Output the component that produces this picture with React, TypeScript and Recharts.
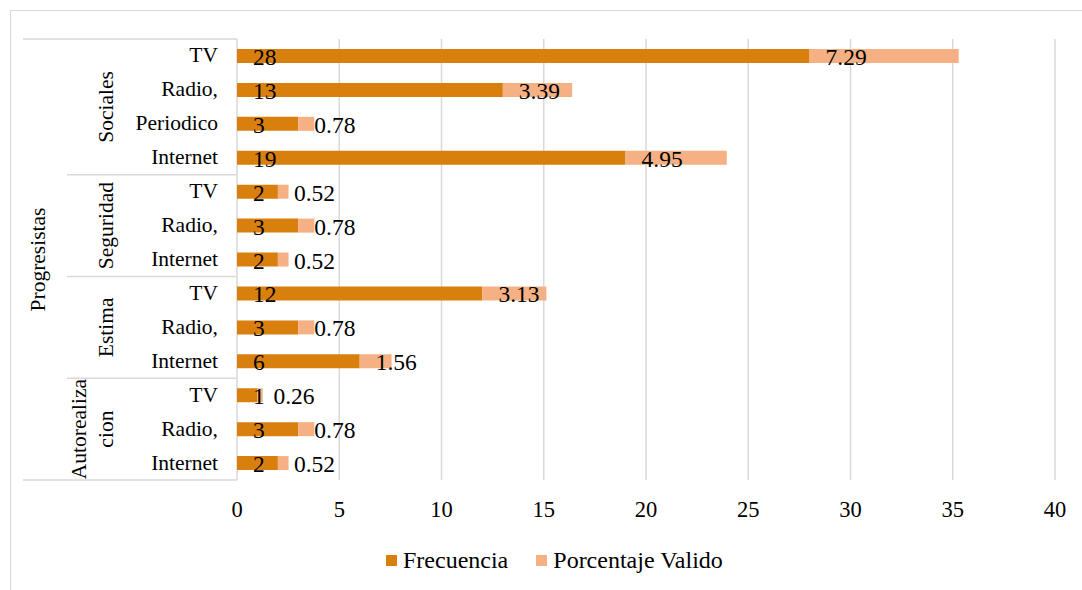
import React from 'react';
import { BarChart, Bar, XAxis, YAxis, CartesianGrid, Legend, LabelList } from 'recharts';

const FONT = 'Liberation Serif';
const DARK = '#D97F0D';
const LIGHT = '#F5B183';
const LINE = '#D9D9D9';

// top-to-bottom rows of the category table
const items = ['TV', 'Radio,', 'Periodico', 'Internet', 'TV', 'Radio,', 'Internet', 'TV', 'Radio,', 'Internet', 'TV', 'Radio,', 'Internet'];
const groupOf = [0, 0, 0, 0, 1, 1, 1, 2, 2, 2, 3, 3, 3];
const groupLabels = [['Sociales'], ['Seguridad'], ['Estima'], ['Autorealiza', 'cion']];
const topLabel = 'Progresistas';
const frecuencia = [28, 13, 3, 19, 2, 3, 2, 12, 3, 6, 1, 3, 2];
const porcentaje = [7.29, 3.39, 0.78, 4.95, 0.52, 0.78, 0.52, 3.13, 0.78, 1.56, 0.26, 0.78, 0.52];
const xTicks = [0, 5, 10, 15, 20, 25, 30, 35, 40];

const data = items.map((name, i) => ({
  key: `${i}-${name}`,
  name,
  frecuencia: frecuencia[i],
  porcentaje: porcentaje[i],
}));

const W = 1082;
const H = 590;
const PLOT_LEFT = 237;
const PLOT_TOP = 39;
const PLOT_BOTTOM = 480;
const BAND = (PLOT_BOTTOM - PLOT_TOP) / items.length;

const fontCss = `
#root .chart-box, #root .chart-box text, #root .chart-box tspan, #root .chart-box div, #root .chart-box span {
  font-family: "Liberation Serif", serif !important;
}`;

const txt = (size: number) => ({ fontSize: size, fill: '#000', fontFamily: FONT });

const CategoryTick: React.FC<any> = ({ y, payload, index }) => {
  const i = payload?.index ?? index;
  const g = groupOf[i];
  const first = i === 0 || groupOf[i - 1] !== g;
  const last = i === items.length - 1;
  const size = groupOf.filter((v) => v === g).length;
  const groupCenter = y - BAND / 2 + (size * BAND) / 2;
  const lines = groupLabels[g];
  const mid = (PLOT_TOP + PLOT_BOTTOM) / 2;
  return (
    <g>
      <text x={218} y={y} dy={6.5} textAnchor="end" {...txt(21.5)}>
        {items[i]}
      </text>
      {first && (
        <line x1={i === 0 ? 23 : 67} x2={PLOT_LEFT} y1={y - BAND / 2} y2={y - BAND / 2} stroke={LINE} strokeWidth={1.5} />
      )}
      {last && <line x1={23} x2={PLOT_LEFT} y1={y + BAND / 2} y2={y + BAND / 2} stroke={LINE} strokeWidth={1.5} />}
      {first &&
        lines.map((t, k) => {
          const cx = 106 - (lines.length - 1 - k) * 27;
          return (
            <text
              key={k}
              x={cx}
              y={groupCenter}
              transform={`rotate(-90, ${cx}, ${groupCenter})`}
              textAnchor="middle"
              dy={7}
              {...txt(21.5)}
            >
              {t}
            </text>
          );
        })}
      {i === 0 && (
        <text x={38} y={mid} transform={`rotate(-90, 38, ${mid})`} textAnchor="middle" dy={7} {...txt(21.5)}>
          {topLabel}
        </text>
      )}
    </g>
  );
};

const ValueTick: React.FC<any> = ({ x, y, payload }) => (
  <text x={x} y={y} dy={37} textAnchor="middle" {...txt(22.5)}>
    {payload.value}
  </text>
);

const renderLabel = (props: any) => {
  const { x, y, height, value } = props;
  return (
    <text x={Number(x) + 16} y={Number(y) + Number(height) / 2} dy={9} {...txt(23.5)}>
      {value}
    </text>
  );
};

const LegendContent: React.FC<any> = ({ payload }) => (
  <div style={{ display: 'flex', alignItems: 'center', height: 30, paddingLeft: 386, fontFamily: FONT, fontSize: 24 }}>
    {(payload || []).map((p: any) => (
      <div key={p.value} style={{ display: 'flex', alignItems: 'center', marginRight: 28 }}>
        <span style={{ display: 'inline-block', width: 11, height: 11, background: p.color, marginRight: 6 }} />
        <span style={{ color: '#000' }}>{p.value}</span>
      </div>
    ))}
  </div>
);

export default function App() {
  return (
    <div className="chart-box" style={{ position: 'absolute', left: 0, top: 0, width: W, height: H, background: '#fff', fontFamily: FONT }}>
      <style>{fontCss}</style>
      <div
        style={{
          position: 'absolute',
          left: 10,
          top: 10,
          width: W,
          height: H,
          borderTop: `1px solid ${LINE}`,
          borderLeft: `1px solid ${LINE}`,
        }}
      />
      <BarChart
        width={W}
        height={H}
        data={data}
        layout="vertical"
        margin={{ top: PLOT_TOP, right: W - 1055, bottom: 15, left: 0 }}
        barSize={14}
      >
        <CartesianGrid horizontal={false} stroke={LINE} strokeWidth={1.5} />
        <XAxis
          type="number"
          domain={[0, 40]}
          ticks={xTicks}
          interval={0}
          axisLine={false}
          tickLine={false}
          tickSize={0}
          tickMargin={0}
          height={65}
          tick={<ValueTick />}
        />
        <YAxis
          type="category"
          dataKey="key"
          width={PLOT_LEFT}
          interval={0}
          axisLine={false}
          tickLine={false}
          tick={<CategoryTick />}
        />
        <Legend verticalAlign="bottom" content={<LegendContent />} wrapperStyle={{ left: 0, width: W }} />
        <Bar dataKey="frecuencia" name="Frecuencia" stackId="a" fill={DARK} isAnimationActive={false}>
          <LabelList dataKey="frecuencia" content={renderLabel} />
        </Bar>
        <Bar dataKey="porcentaje" name="Porcentaje Valido" stackId="a" fill={LIGHT} isAnimationActive={false}>
          <LabelList dataKey="porcentaje" content={renderLabel} />
        </Bar>
      </BarChart>
    </div>
  );
}
